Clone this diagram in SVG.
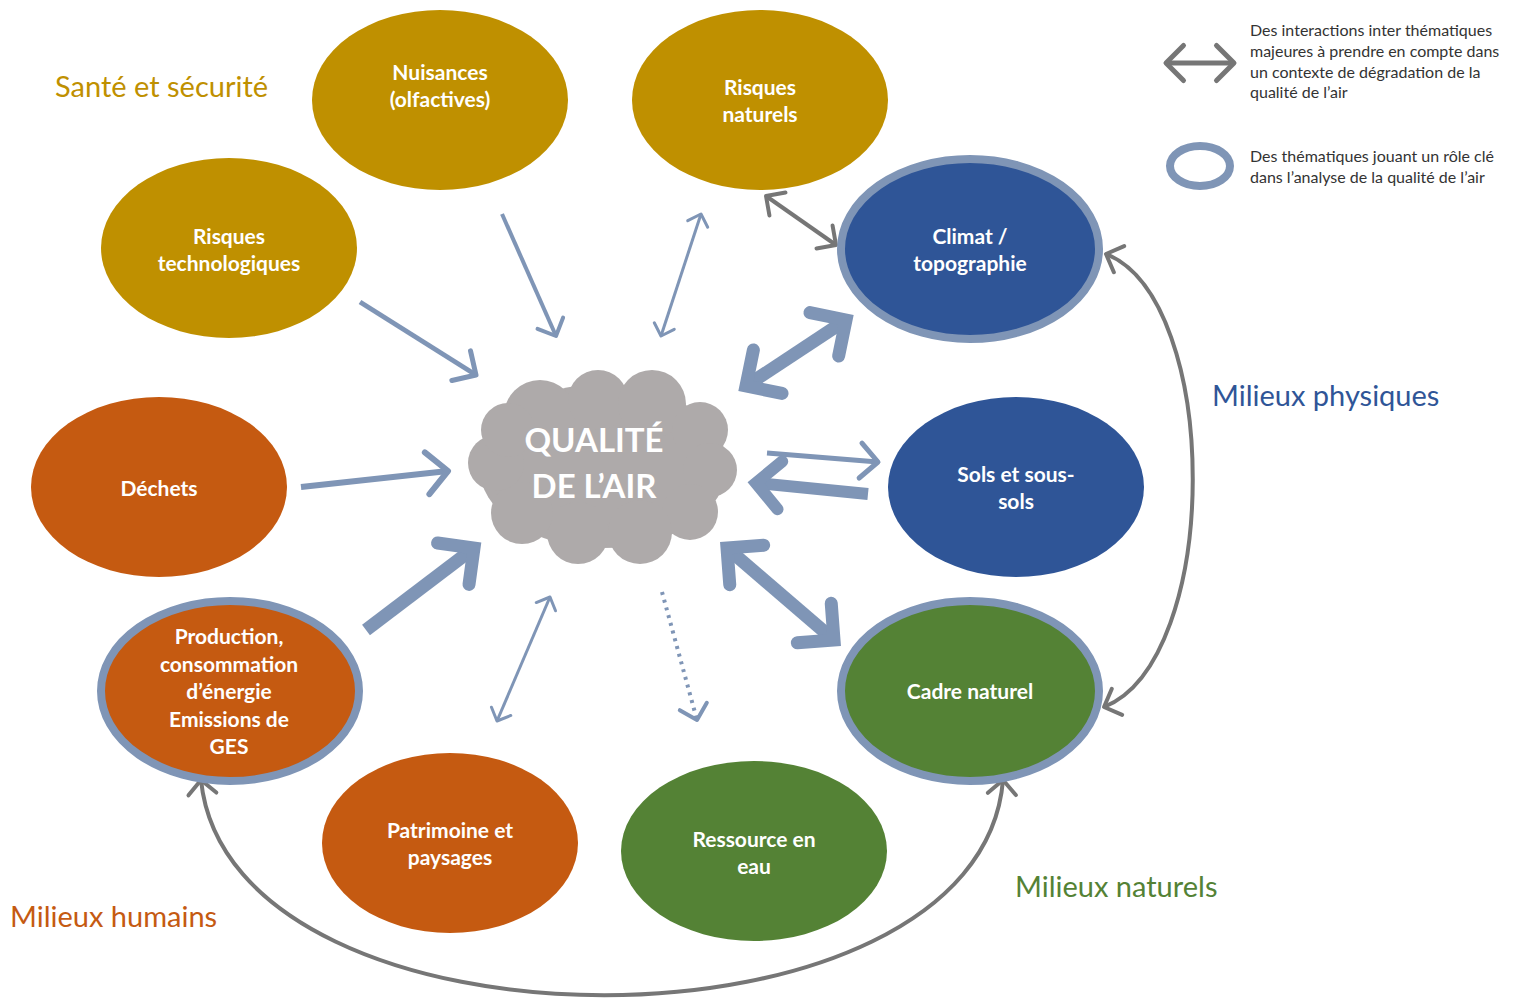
<svg xmlns="http://www.w3.org/2000/svg" width="1521" height="999" viewBox="0 0 1521 999">
<style>
.gold{fill:#bf9000}
.orange{fill:#c55a11}
.blue{fill:#2f5597}
.green{fill:#548235}
.ring{stroke:#7f95b6;stroke-width:8}
.nt{font-family:Lato,"Open Sans",sans-serif;font-weight:bold;font-size:21px;fill:#ffffff;text-anchor:middle}
.cat{font-family:Lato,"Open Sans",sans-serif;font-size:29px}
.leg{font-family:Lato,"Open Sans",sans-serif;font-size:16px;fill:#333333}
.ba{stroke:#7f95b6;fill:none;stroke-linecap:butt}
.ga{stroke:#767676;fill:none}
</style>
<defs>
<marker id="hThin" viewBox="-5 -5 6 10" refX="0" refY="0" markerWidth="6" markerHeight="10" orient="auto-start-reverse" markerUnits="strokeWidth" overflow="visible">
<path d="M-3.5,-3.5 L0,0 L-3.5,3.5" fill="none" stroke="#7f95b6" stroke-width="1" stroke-linejoin="round" stroke-linecap="round"/>
</marker>
<marker id="hThick" viewBox="-3 -3 4 6" refX="0" refY="0" markerWidth="4" markerHeight="6" orient="auto-start-reverse" markerUnits="strokeWidth" overflow="visible">
<path d="M-2,-2 L0,0 L-2,2" fill="none" stroke="#7f95b6" stroke-width="1" stroke-linejoin="miter" stroke-linecap="round"/>
</marker>
<marker id="hGray" viewBox="-5 -5 6 10" refX="0" refY="0" markerWidth="6" markerHeight="10" orient="auto-start-reverse" markerUnits="strokeWidth" overflow="visible">
<path d="M-3.5,-3.5 L0,0 L-3.5,3.5" fill="none" stroke="#767676" stroke-width="1" stroke-linejoin="round" stroke-linecap="round"/>
</marker>
</defs>
<rect width="1521" height="999" fill="#ffffff"/>

<g id="categories">
<text class="cat" x="55" y="97" fill="#bf9000">Santé et sécurité</text>
<text class="cat" x="1212" y="406" fill="#2f5597">Milieux physiques</text>
<text class="cat" x="1015" y="897" fill="#548235">Milieux naturels</text>
<text class="cat" x="10" y="927" fill="#c55a11">Milieux humains</text>
</g>

<g id="legend">
<line class="ga" x1="1166" y1="63" x2="1234" y2="63" stroke-width="5" marker-start="url(#hGray)" marker-end="url(#hGray)"/>
<text class="leg" x="1250" y="36">Des interactions inter thématiques</text>
<text class="leg" x="1250" y="57">majeures à prendre en compte dans</text>
<text class="leg" x="1250" y="78">un contexte de dégradation de la</text>
<text class="leg" x="1250" y="98">qualité de l’air</text>
<ellipse cx="1200" cy="166" rx="30" ry="20" fill="#ffffff" class="ring"/>
<text class="leg" x="1250" y="162">Des thématiques jouant un rôle clé</text>
<text class="leg" x="1250" y="183">dans l’analyse de la qualité de l’air</text>
</g>

<g id="connectors">
<line class="ba" x1="360" y1="302" x2="476" y2="375" stroke-width="5" marker-end="url(#hThin)"/>
<line class="ba" x1="502" y1="214" x2="556" y2="336" stroke-width="4" marker-end="url(#hThin)"/>
<line class="ba" x1="661" y1="336" x2="701" y2="214" stroke-width="3" marker-start="url(#hThin)" marker-end="url(#hThin)"/>
<line class="ba" x1="746" y1="386" x2="846" y2="320" stroke-width="13" marker-start="url(#hThick)" marker-end="url(#hThick)"/>
<line class="ba" x1="767" y1="453" x2="878" y2="462" stroke-width="5" marker-end="url(#hThin)"/>
<line class="ba" x1="868" y1="494" x2="756" y2="483" stroke-width="12" marker-end="url(#hThick)"/>
<line class="ba" x1="727" y1="548" x2="834" y2="640" stroke-width="13" marker-start="url(#hThick)" marker-end="url(#hThick)"/>
<line class="ba" x1="301" y1="487" x2="448" y2="471" stroke-width="6" marker-end="url(#hThin)"/>
<line class="ba" x1="366" y1="630" x2="474" y2="548" stroke-width="13" marker-end="url(#hThick)"/>
<line class="ba" x1="497" y1="721" x2="550" y2="597" stroke-width="3" marker-start="url(#hThin)" marker-end="url(#hThin)"/>
<line class="ba" x1="662" y1="592" x2="697" y2="720" stroke-width="4" stroke-dasharray="3,5" marker-end="url(#hThin)"/>
<line class="ga" x1="766" y1="196" x2="836" y2="245" stroke-width="4" marker-start="url(#hGray)" marker-end="url(#hGray)"/>
<path class="ga" d="M1106,254 C1222,300 1222,660 1104,707" stroke-width="4" marker-start="url(#hGray)" marker-end="url(#hGray)"/>
<path class="ga" d="M201,780 C230,1067 980,1067 1003,780" stroke-width="4" marker-start="url(#hGray)" marker-end="url(#hGray)"/>
</g>

<g id="cloud" fill="#aeaaaa">
<ellipse cx="603" cy="466" rx="124" ry="82"/>
<circle cx="540" cy="416" r="36"/>
<circle cx="598" cy="400" r="30"/>
<circle cx="652" cy="404" r="34"/>
<circle cx="700" cy="430" r="28"/>
<circle cx="710" cy="470" r="27"/>
<circle cx="690" cy="512" r="28"/>
<circle cx="640" cy="532" r="32"/>
<circle cx="578" cy="533" r="31"/>
<circle cx="522" cy="513" r="31"/>
<circle cx="496" cy="463" r="28"/>
<circle cx="508" cy="430" r="27"/>
<text x="594" y="452" font-family="Lato,'Open Sans',sans-serif" font-weight="bold" font-size="33" fill="#ffffff" text-anchor="middle">QUALITÉ</text>
<text x="594" y="498" font-family="Lato,'Open Sans',sans-serif" font-weight="bold" font-size="33" fill="#ffffff" text-anchor="middle">DE L’AIR</text>
</g>

<g id="nuisances">
<ellipse cx="440" cy="100" rx="128" ry="90" class="gold"/>
<text class="nt" x="440" y="80">Nuisances</text>
<text class="nt" x="440" y="107">(olfactives)</text>
</g>
<g id="risques-naturels">
<ellipse cx="760" cy="100" rx="128" ry="90" class="gold"/>
<text class="nt" x="760" y="95">Risques</text>
<text class="nt" x="760" y="122">naturels</text>
</g>
<g id="risques-technologiques">
<ellipse cx="229" cy="248" rx="128" ry="90" class="gold"/>
<text class="nt" x="229" y="244">Risques</text>
<text class="nt" x="229" y="271">technologiques</text>
</g>
<g id="climat">
<ellipse cx="970" cy="249" rx="129" ry="90" class="blue ring"/>
<text class="nt" x="970" y="244">Climat /</text>
<text class="nt" x="970" y="271">topographie</text>
</g>
<g id="dechets">
<ellipse cx="159" cy="487" rx="128" ry="90" class="orange"/>
<text class="nt" x="159" y="496">Déchets</text>
</g>
<g id="sols">
<ellipse cx="1016" cy="487" rx="128" ry="90" class="blue"/>
<text class="nt" x="1016" y="482">Sols et sous-</text>
<text class="nt" x="1016" y="509">sols</text>
</g>
<g id="production">
<ellipse cx="230" cy="691" rx="129" ry="90" class="orange ring"/>
<text class="nt" x="229" y="644">Production,</text>
<text class="nt" x="229" y="672">consommation</text>
<text class="nt" x="229" y="699">d’énergie</text>
<text class="nt" x="229" y="727">Emissions de</text>
<text class="nt" x="229" y="754">GES</text>
</g>
<g id="cadre-naturel">
<ellipse cx="970" cy="691" rx="129" ry="90" class="green ring"/>
<text class="nt" x="970" y="699">Cadre naturel</text>
</g>
<g id="patrimoine">
<ellipse cx="450" cy="843" rx="128" ry="90" class="orange"/>
<text class="nt" x="450" y="838">Patrimoine et</text>
<text class="nt" x="450" y="865">paysages</text>
</g>
<g id="ressource-eau">
<ellipse cx="754" cy="851" rx="133" ry="90" class="green"/>
<text class="nt" x="754" y="847">Ressource en</text>
<text class="nt" x="754" y="874">eau</text>
</g>
</svg>
